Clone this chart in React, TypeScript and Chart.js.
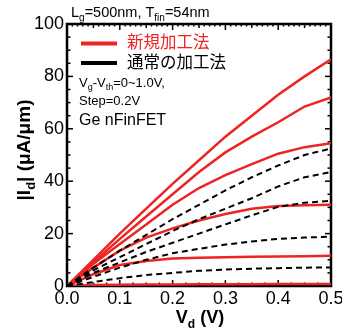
import React, { useEffect, useRef } from "react";
import { Chart, registerables } from "chart.js";
Chart.register(...registerables);

const vd = [0, 0.05, 0.1, 0.15, 0.2, 0.25, 0.3, 0.35, 0.4, 0.45, 0.5];

// 新規加工法 (red, solid), Vg-Vth = 1.0 ... 0 V
const red1 = [0, 10, 20, 29.5, 39, 48, 57, 65, 73, 80, 86.5];
const red2 = [0, 9, 18, 26.5, 35, 43.5, 51, 57, 62.5, 68.5, 72];
const red3 = [0, 8.5, 16, 23.5, 31, 37.4, 42.3, 46.5, 50.5, 53, 54.5];
const red4 = [0, 7, 13.5, 18.5, 22, 25, 27.5, 29.5, 30.5, 30.8, 31];
const red5 = [0, 4.5, 8, 9.5, 10.5, 10.8, 11, 11.2, 11.3, 11.4, 11.5];
const red6 = [0, 0.4, 0.5, 0.6, 0.6, 0.7, 0.7, 0.7, 0.8, 0.8, 0.8];

// 通常の加工法 (black, dashed)
const black1 = [0, 7, 13.5, 19.5, 25.5, 31, 36.5, 41.5, 46, 50, 52.5];
const black2 = [0, 6, 11, 16, 21, 25.5, 29.5, 33.5, 38, 41.5, 43.5];
const black3 = [0, 5, 9, 13, 16.5, 20, 23.5, 27, 30.2, 31.8, 32.5];
const black4 = [0, 3.5, 7, 10, 12.5, 14.2, 15.8, 17, 18, 18.5, 18.8];
const black5 = [0, 1.5, 3, 4.2, 5, 5.8, 6.3, 6.6, 6.8, 7, 7.1];

const xTicks = [0, 0.1, 0.2, 0.3, 0.4, 0.5];
const xTickLabels = ["0.0", "0.1", "0.2", "0.3", "0.4", "0.5"];
const yTicks = [0, 20, 40, 60, 80, 100];
const yTickLabels = ["0", "20", "40", "60", "80", "100"];

const legendLabels = ["新規加工法", "通常の加工法"];

const RED = "#ec2424";
const FONT = "'Liberation Sans', 'Noto Sans CJK JP', Arial, sans-serif";

type Seg = { t: string; sub?: boolean };

function drawRich(ctx: CanvasRenderingContext2D, segs: Seg[], x: number, y: number, size: number, bold: boolean, align: "left" | "center") {
  const w = (s: Seg) => {
    ctx.font = `${bold ? "bold " : ""}${s.sub ? Math.round(size * 0.68) : size}px ${FONT}`;
    return ctx.measureText(s.t).width;
  };
  let total = 0;
  for (const s of segs) total += w(s);
  let cx = align === "center" ? x - total / 2 : x;
  ctx.textAlign = "left";
  ctx.textBaseline = "alphabetic";
  for (const s of segs) {
    const ww = w(s);
    ctx.fillText(s.t, cx, y + (s.sub ? size * 0.25 : 0));
    cx += ww;
  }
}

const frame = {
  id: "frame",
  beforeDatasetsDraw(chart: any) {
    const ctx: CanvasRenderingContext2D = chart.ctx;
    const { left, right, top, bottom } = chart.chartArea;
    const xs = chart.scales.x;
    const ys = chart.scales.y;
    ctx.save();
    ctx.strokeStyle = "#000";
    ctx.lineWidth = 1.5;
    const tick = (x1: number, y1: number, x2: number, y2: number) => {
      ctx.beginPath();
      ctx.moveTo(x1, y1);
      ctx.lineTo(x2, y2);
      ctx.stroke();
    };
    for (let i = 0; i <= 50; i++) {
      const px = xs.getPixelForValue(i / 100);
      const topLen = i % 10 === 0 ? 6 : i % 5 === 0 ? 4 : 2.5;
      tick(px, top, px, top + topLen);
    }
    for (let i = 0; i <= 20; i++) {
      const px = xs.getPixelForValue(i * 0.025);
      const len = i % 4 === 0 ? 6 : 3.5;
      tick(px, bottom, px, bottom - len);
    }
    for (let i = 0; i <= 20; i++) {
      const py = ys.getPixelForValue(i * 5);
      const len = i % 4 === 0 ? 6 : 3.5;
      tick(left, py, left + len, py);
      tick(right, py, right - len, py);
    }
    ctx.lineWidth = 2.5;
    ctx.strokeRect(left, top, right - left, bottom - top);
    ctx.restore();
  },
};

const decor = {
  id: "decor",
  afterDraw(chart: any) {
    const ctx: CanvasRenderingContext2D = chart.ctx;
    const { left, bottom } = chart.chartArea;
    const xs = chart.scales.x;
    const ys = chart.scales.y;
    ctx.save();
    ctx.fillStyle = "#000";
    ctx.strokeStyle = "#000";
    const line = (x1: number, y1: number, x2: number, y2: number) => {
      ctx.beginPath();
      ctx.moveTo(x1, y1);
      ctx.lineTo(x2, y2);
      ctx.stroke();
    };

    // tick labels
    ctx.font = `18px ${FONT}`;
    ctx.textAlign = "center";
    ctx.textBaseline = "middle";
    xTicks.forEach((v, i) => ctx.fillText(xTickLabels[i], xs.getPixelForValue(v), bottom + 13));
    ctx.textAlign = "right";
    yTicks.forEach((v, i) => ctx.fillText(yTickLabels[i], left - 3, ys.getPixelForValue(v)));

    // axis titles
    drawRich(ctx, [{ t: "V" }, { t: "d", sub: true }, { t: " (V)" }], 200, 323, 18, true, "center");
    ctx.save();
    ctx.translate(30, 150);
    ctx.rotate(-Math.PI / 2);
    drawRich(ctx, [{ t: "|I" }, { t: "d", sub: true }, { t: "| (μA/μm)" }], 0, 0, 19, true, "center");
    ctx.restore();

    // top title
    drawRich(ctx, [{ t: "L" }, { t: "g", sub: true }, { t: "=500nm, T" }, { t: "fin", sub: true }, { t: "=54nm" }], 71, 17, 14.5, false, "left");

    // legend
    ctx.lineWidth = 4;
    ctx.strokeStyle = RED;
    line(81, 43.5, 117, 43.5);
    ctx.strokeStyle = "#000";
    line(81, 63, 117, 63);
    ctx.font = `16.5px ${FONT}`;
    ctx.textAlign = "left";
    ctx.textBaseline = "middle";
    ctx.fillStyle = RED;
    ctx.fillText(legendLabels[0], 127, 43.5);
    ctx.fillStyle = "#000";
    ctx.fillText(legendLabels[1], 127, 63);

    // annotations
    drawRich(ctx, [{ t: "V" }, { t: "g", sub: true }, { t: "-V" }, { t: "th", sub: true }, { t: "=0~1.0V," }], 79, 87, 13, false, "left");
    drawRich(ctx, [{ t: "Step=0.2V" }], 79, 105, 13, false, "left");
    drawRich(ctx, [{ t: "Ge nFinFET" }], 79, 125, 16, false, "left");
    ctx.restore();
  },
};

export default function App() {
  const ref = useRef<HTMLCanvasElement>(null);
  useEffect(() => {
    document.body.style.margin = "0";
    const mk = (data: number[], color: string, dashed: boolean) => ({
      data: vd.map((x, i) => ({ x, y: data[i] })),
      borderColor: color,
      borderWidth: dashed ? 2 : 2.5,
      borderDash: dashed ? [6, 4] : [],
      pointRadius: 0,
      tension: 0,
      fill: false,
    });
    const chart = new Chart(ref.current!, {
      type: "line",
      data: {
        datasets: [
          mk(black1, "#000", true),
          mk(black2, "#000", true),
          mk(black3, "#000", true),
          mk(black4, "#000", true),
          mk(black5, "#000", true),
          mk(red1, RED, false),
          mk(red2, RED, false),
          mk(red3, RED, false),
          mk(red4, RED, false),
          mk(red5, RED, false),
          mk(red6, RED, false),
        ],
      },
      options: {
        responsive: false,
        animation: false,
        layout: { padding: { left: 67, right: 11, top: 24, bottom: 45 } },
        plugins: { legend: { display: false }, tooltip: { enabled: false } },
        scales: {
          x: { type: "linear", min: 0, max: 0.5, display: false },
          y: { type: "linear", min: 0, max: 100, display: false },
        },
      },
      plugins: [frame, decor],
    });
    return () => chart.destroy();
  }, []);
  return (
    <div style={{ position: "fixed", left: 0, top: 0, width: 342, height: 331, background: "#fff" }}>
      <canvas ref={ref} width={342} height={331} />
    </div>
  );
}
